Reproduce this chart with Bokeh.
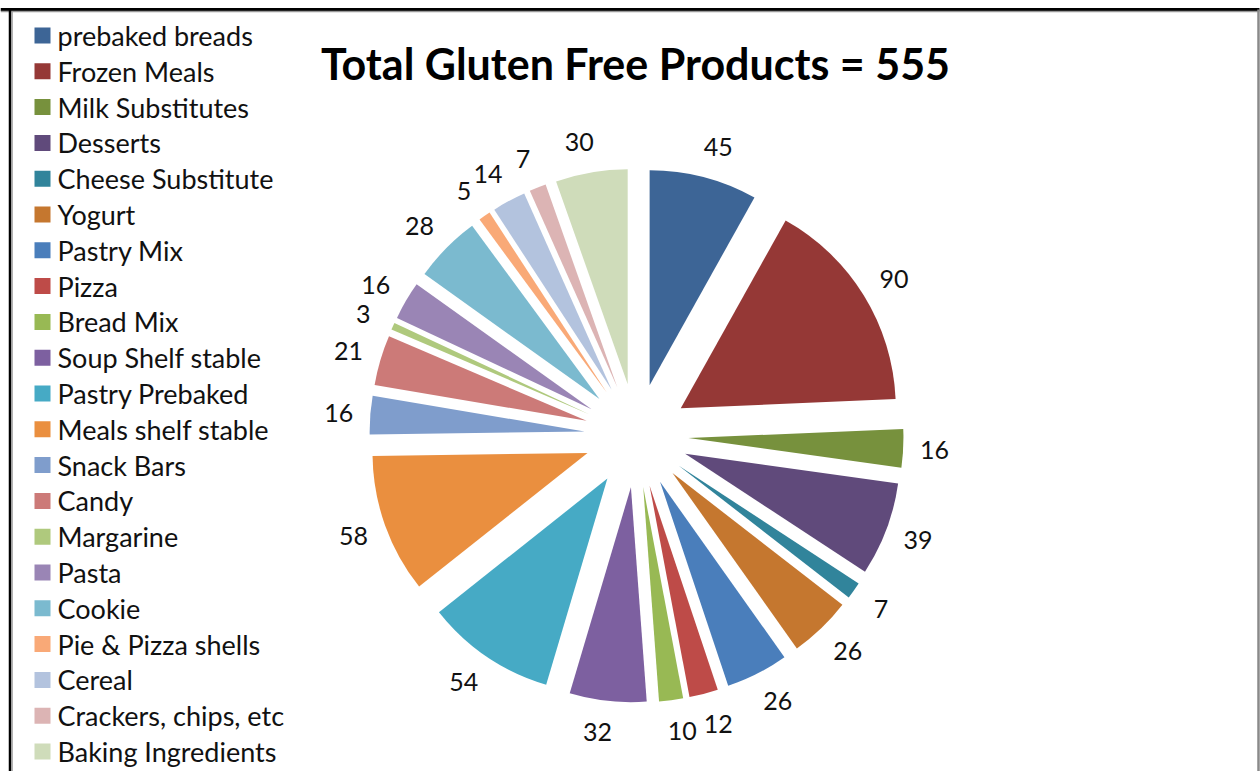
import numpy as np
from bokeh.plotting import figure
from bokeh.models import Range1d, ColumnDataSource
from bokeh.core.properties import value
from bokeh.embed import file_html
from bokeh.resources import INLINE

categories = ["prebaked breads", "Frozen Meals", "Milk Substitutes", "Desserts",
              "Cheese Substitute", "Yogurt", "Pastry Mix", "Pizza", "Bread Mix",
              "Soup Shelf stable", "Pastry Prebaked", "Meals shelf stable", "Snack Bars",
              "Candy", "Margarine", "Pasta", "Cookie", "Pie & Pizza shells", "Cereal",
              "Crackers, chips, etc", "Baking Ingredients"]
counts = [45, 90, 16, 39, 7, 26, 26, 12, 10, 32, 54, 58, 16, 21, 3, 16, 28, 5, 14, 7, 30]
colors = ["#3D6596", "#953836", "#77913D", "#604A7B", "#31849B", "#C5772F",
          "#4A7EBB", "#BE4B48", "#98B954", "#7D60A0", "#46AAC5", "#EA8F3F",
          "#7F9DCC", "#CC7A78", "#AFC97D", "#9A85B5", "#7BBACF", "#F9A977",
          "#B3C3DE", "#DCB4B4", "#CFDCBA"]
title_text = "Total Gluten Free Products = 555"

W, H = 1260, 771
p = figure(width=W, height=H, output_backend="svg", toolbar_location=None,
           x_axis_type=None, y_axis_type=None, min_border=0,
           x_range=Range1d(0, W), y_range=Range1d(0, H))
p.grid.visible = False
p.outline_line_color = None
p.background_fill_color = "white"
p.border_fill_color = "white"

# pie geometry (pixels)
cx, cy = 636, H - 435
R, EXPL, LAB_R = 215, 52, 298

vals = np.array(counts, dtype=float)
frac = vals / vals.sum()
cum = np.concatenate([[0], np.cumsum(frac)])
start = np.pi / 2 - cum[:-1] * 2 * np.pi
end = np.pi / 2 - cum[1:] * 2 * np.pi
mid = (start + end) / 2
dx, dy = np.cos(mid), np.sin(mid)
# outside-end labels: push label box outward by a share of its size
lab = [str(c) for c in counts]
lw = np.array([14.0 * len(s) for s in lab])
src = ColumnDataSource(dict(
    x=cx + EXPL * dx, y=cy + EXPL * dy,
    start=start, end=end, color=colors,
    lx=cx + LAB_R * dx + 0.5 * lw * np.sign(dx) * np.abs(dy) * 0.5,
    ly=cy + LAB_R * dy,
    lab=lab))

p.wedge(x="x", y="y", radius=R, start_angle="start", end_angle="end",
        direction="clock", fill_color="color", line_color=None, source=src)

p.text(x="lx", y="ly", text="lab", source=src, text_font=value("Lato"),
       text_font_size="25px", text_align="center", text_baseline="middle",
       text_color="#111111")

# legend
n = len(categories)
leg_y = H - (35 + 35.8 * np.arange(n))
lsrc = ColumnDataSource(dict(x=[42] * n, tx=[57] * n, y=leg_y, color=colors,
                             name=categories))
p.scatter(x="x", y="y", size=16, marker="square", fill_color="color",
          line_color=None, source=lsrc)
p.text(x="tx", y="y", text="name", source=lsrc, text_font=value("Lato"),
       text_font_size="27px", text_align="left", text_baseline="middle",
       text_color="#111111")

# title
p.text(x=[635], y=[H - 63], text=[title_text], text_font=value("Lato"),
       text_font_style="bold", text_font_size="43px", text_align="center",
       text_baseline="middle", text_color="black")

# frame
p.line(x=[0, 1259], y=[H - 9, H - 9], line_color="black", line_width=3)
p.line(x=[0, 1259], y=[H - 11, H - 11], line_color="#999999", line_width=1.5)
p.line(x=[9.5, 9.5], y=[0, H - 9], line_color="black", line_width=2.5)
p.line(x=[11.5, 11.5], y=[0, H - 11], line_color="#999999", line_width=1.5)
p.line(x=[1258, 1258], y=[0, H - 9], line_color="#8a8a8a", line_width=2.5)

open("out.html", "w").write(file_html(p, INLINE))
